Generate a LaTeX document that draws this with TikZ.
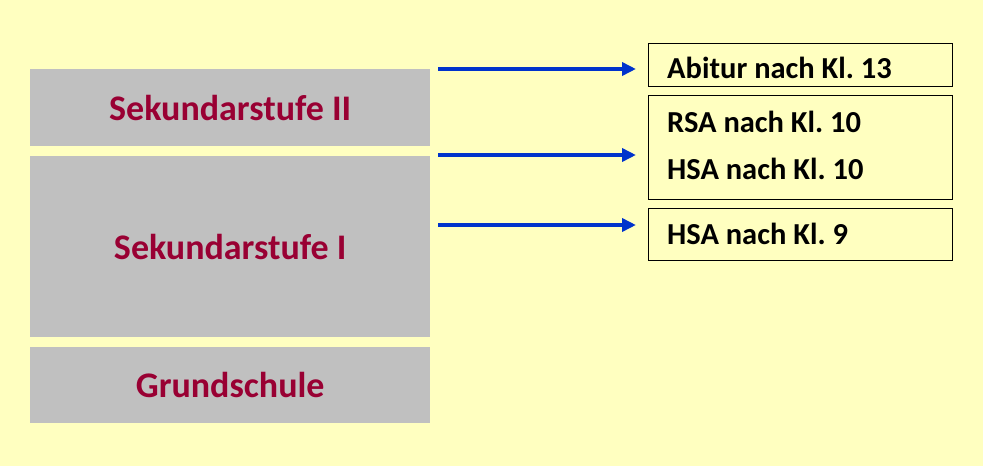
\documentclass[tikz,border=0pt]{standalone}
\usepackage{fontspec}
\setmainfont{Carlito}
\usepackage{xcolor}
\usepackage{tikz}
\usetikzlibrary{positioning,arrows.meta}
\frenchspacing

\definecolor{bgyellow}{HTML}{FFFFC0}
\definecolor{stufegray}{HTML}{C0C0C0}
\definecolor{stufered}{HTML}{990033}
\definecolor{arrowblue}{HTML}{0033CC}

\tikzset{
  stufe/.style={fill=stufegray, text=stufered, font=\fontsize{36}{40}\selectfont\bfseries,
    minimum width=400pt, anchor=north west, inner sep=0pt},
  abschluss/.style={draw=black, line width=0.8pt, minimum width=304pt, anchor=north west, inner sep=0pt},
  abtext/.style={font=\fontsize{30.5}{34}\selectfont\bfseries, anchor=base west, inner sep=0pt},
  pfeil/.style={-{Triangle[length=14pt,width=13pt]}, arrowblue, line width=3.5pt, shorten >=12pt}
}

\begin{document}
\begin{tikzpicture}[x=1pt,y=-1pt]
\fill[bgyellow] (0,0) rectangle (983,466);

% Stufen
\node[stufe, minimum height=77pt] (sek2) at (30,69) {Sekundarstufe II};
\node[stufe, minimum height=181pt] (sek1) at (30,156) {Sekundarstufe I};
\node[stufe, minimum height=76pt] (grund) at (30,347) {Grundschule};

% Abschluesse
\node[abschluss, minimum height=43pt] (abi) at (648,43) {};
\node[abschluss, minimum height=104pt] (rsa) at (648,95) {};
\node[abschluss, minimum height=52pt] (hsa) at (648,208) {};

\node[abtext] (abitext) at (667,78) {Abitur nach Kl. 13};
\node[abtext] (rsatext) at (667,132) {RSA nach Kl. 10};
\node[abtext] (hsa10text) at (667,179) {HSA nach Kl. 10};
\node[abtext] (hsa9text) at (667,244) {HSA nach Kl. 9};

% Pfeile
\coordinate (p1) at (438,69);
\coordinate (p2) at (438,155);
\coordinate (p3) at (438,225);
\draw[pfeil] (p1) -- (abi.west |- p1);
\draw[pfeil] (p2) -- (rsa.west |- p2);
\draw[pfeil] (p3) -- (hsa.west |- p3);
\end{tikzpicture}
\end{document}
